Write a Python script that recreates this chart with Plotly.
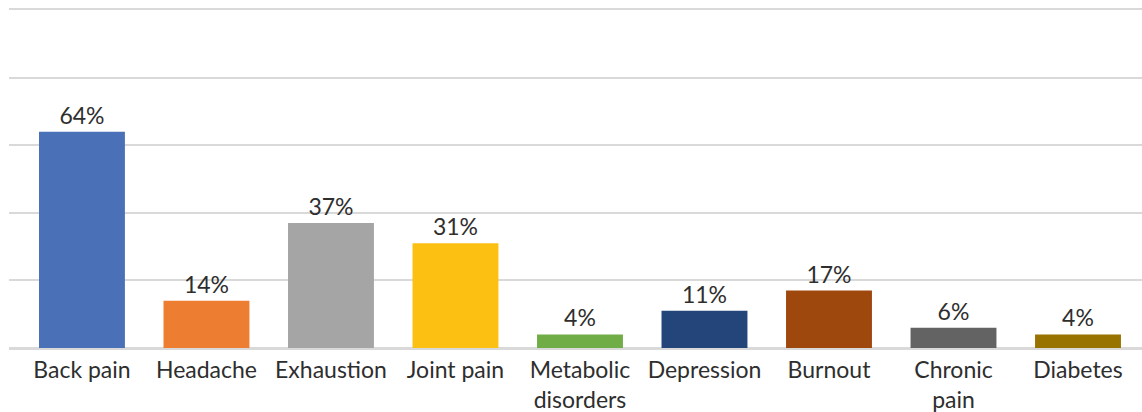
import plotly.graph_objects as go

categories = ["Back pain", "Headache", "Exhaustion", "Joint pain", "Metabolic<br>disorders",
              "Depression", "Burnout", "Chronic<br>pain", "Diabetes"]
values = [64, 14, 37, 31, 4, 11, 17, 6, 4]
colors = ["#4A70B8", "#ED7D31", "#A5A5A5", "#FBC012", "#70AD47",
          "#24457A", "#9E480E", "#636363", "#997300"]

FONT = "Lato, 'Open Sans', sans-serif"
TEXT_COLOR = "#2e2e2e"

x_idx = list(range(len(categories)))

fig = go.Figure(go.Bar(
    x=x_idx,
    y=values,
    marker=dict(color=colors, line=dict(width=0)),
    text=[f"{v}%" for v in values],
    textposition="outside",
    textfont=dict(family=FONT, size=23, color=TEXT_COLOR),
    cliponaxis=False,
    hoverinfo="skip",
))

fig.update_layout(
    width=1142, height=412,
    margin=dict(l=9, r=0, t=10, b=64, autoexpand=False),
    paper_bgcolor="white", plot_bgcolor="white",
    bargap=0.31,
    showlegend=False,
    uniformtext=dict(mode=False),
)

fig.update_xaxes(
    tickmode="array", tickvals=x_idx, ticktext=categories,
    range=[-0.586, 8.514],
    automargin=False,
    showgrid=False, zeroline=False, ticks="",
    showline=True, mirror=True, linecolor="#d9d9d9", linewidth=1.5,
    tickfont=dict(family=FONT, size=23, color=TEXT_COLOR),
    ticklabelstandoff=1,
)

fig.update_yaxes(
    range=[0, 100], dtick=20,
    automargin=False,
    showgrid=True, gridcolor="#d9d9d9", gridwidth=1.5,
    zeroline=True, zerolinecolor="#d9d9d9", zerolinewidth=1.5,
    showticklabels=False, ticks="",
)

fig.write_html("out.html")
